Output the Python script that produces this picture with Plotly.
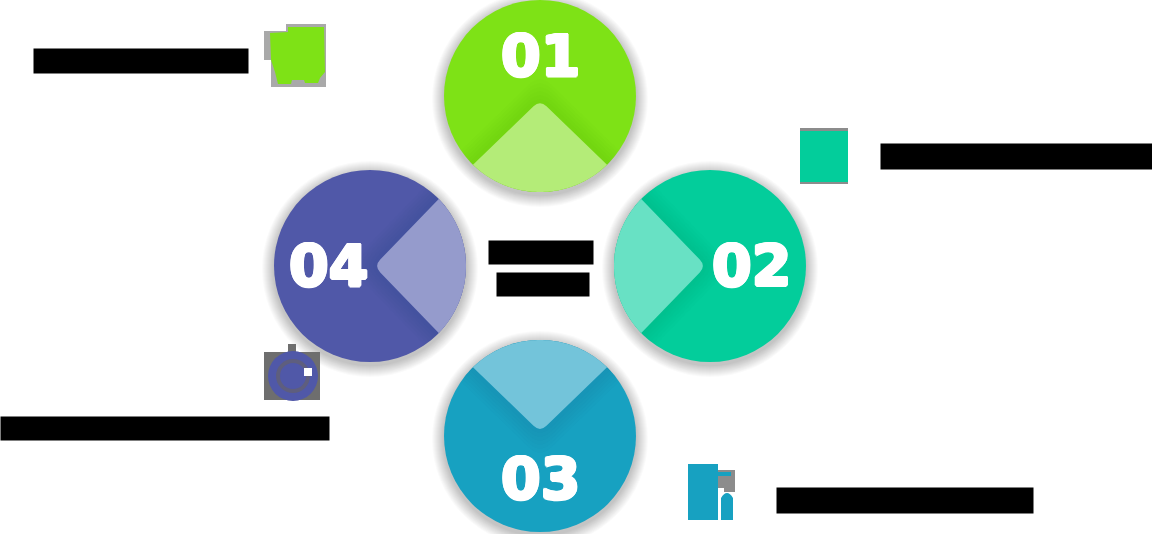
import math
import plotly.graph_objects as go

# ---- content ----
step_numbers = ["01", "02", "03", "04"]
step_labels = ["Online Tracking", "Data Brokerage Sales", "Weak Password Security", "Government Surveillance Overreach"]
center_title = ["Privacy", "Risks"]
main_colors = ["#7EE216", "#03CD9B", "#17A1C1", "#5058A8"]
light_colors = ["#B4EC78", "#68E1C4", "#73C4DA", "#959BCC"]
dark_colors = ["#5AB00A", "#029E78", "#0F7E99", "#363D85"]

W, H = 1152, 534
CX, CY = 540, 266      # layout center
DIST = 170             # center -> circle center
R = 96                 # circle radius

# direction of each circle from layout center (pixel coords, y down)
dirs = [(0, -1), (1, 0), (0, 1), (-1, 0)]

fig = go.Figure()
shapes = []
annotations = []


def wedge_path(cx, cy, r, vx, vy, ox, oy, half=math.radians(46), rc=9, npts=60):
    """Light wedge inside circle (cx,cy,r) with vertex (vx,vy) opening along (ox,oy)."""
    base = math.atan2(oy, ox)
    ends = []
    for s in (+1, -1):
        a = base + s * half
        dx, dy = math.cos(a), math.sin(a)
        px, py = vx - cx, vy - cy
        b = dx * px + dy * py
        c = px * px + py * py - r * r
        t = -b + math.sqrt(b * b - c)
        ends.append((vx + t * dx, vy + t * dy, dx, dy))
    (x1, y1, d1x, d1y), (x2, y2, d2x, d2y) = ends
    a1 = math.atan2(y1 - cy, x1 - cx)
    a2 = math.atan2(y2 - cy, x2 - cx)
    delta = (a2 - a1) % (2 * math.pi)
    mid = a1 + delta / 2
    if math.cos(mid - base) < 0:
        delta -= 2 * math.pi
    path = f"M {vx + rc * d2x:.2f},{vy + rc * d2y:.2f} Q {vx:.2f},{vy:.2f} {vx + rc * d1x:.2f},{vy + rc * d1y:.2f} L {x1:.2f},{y1:.2f}"
    for i in range(1, npts + 1):
        a = a1 + delta * i / npts
        path += f" L {cx + r * math.cos(a):.2f},{cy + r * math.sin(a):.2f}"
    path += " Z"
    return path


# shadows
for i, (dx, dy) in enumerate(dirs):
    cx, cy = CX + dx * DIST, CY + dy * DIST
    for k in range(12, 0, -1):
        shapes.append(dict(type="circle", x0=cx - R - k, x1=cx + R + k, y0=cy - R - k + 3, y1=cy + R + k + 3,
                           fillcolor="rgba(0,0,0,0.018)", line=dict(width=0), layer="below"))

for i, (dx, dy) in enumerate(dirs):
    cx, cy = CX + dx * DIST, CY + dy * DIST
    shapes.append(dict(type="circle", x0=cx - R, x1=cx + R, y0=cy - R, y1=cy + R,
                       fillcolor=main_colors[i], line=dict(width=0), layer="below"))
    ox, oy = -dx, -dy
    vx, vy = cx + ox * 4, cy + oy * 4
    # soft dark band beside wedge
    for off in (26, 22, 18, 14, 10, 6):
        shapes.append(dict(type="path",
                           path=wedge_path(cx, cy, R, vx - ox * off, vy - oy * off, ox, oy, rc=16),
                           fillcolor=dark_colors[i], opacity=0.045, line=dict(width=0), layer="below"))
    shapes.append(dict(type="path", path=wedge_path(cx, cy, R, vx, vy, ox, oy),
                       fillcolor=light_colors[i], line=dict(width=0), layer="below"))

# numbers (thickened with a white text shadow to mimic an extra-bold face)
thick = ", ".join(f"{sx}px {sy}px 0 white" for sx, sy in
                  [(1.5, 0), (-1.5, 0), (0, 1.5), (0, -1.5), (1, 1), (-1, -1), (1, -1), (-1, 1)])
num_offsets = [(0, -40), (41, 0), (0, 43), (-42, 0)]
for i, (dx, dy) in enumerate(dirs):
    cx, cy = CX + dx * DIST, CY + dy * DIST
    annotations.append(dict(x=cx + num_offsets[i][0], y=cy + num_offsets[i][1],
                            text=f"<b>{step_numbers[i]}</b>", showarrow=False,
                            font=dict(family="DejaVu Sans", size=57, color="white", shadow=thick),
                            xanchor="center", yanchor="middle"))

# label blocks (text redacted as black bars)
label_boxes = [(33, 48, 214, 24), (880, 143, 272, 25), (776, 487, 256, 25), (0, 416, 328, 23)]
for i, (x0, y0, w, h) in enumerate(label_boxes):
    annotations.append(dict(x=x0, y=y0, text=f"<b>{step_labels[i]}</b>",
                            showarrow=False, xanchor="left", yanchor="top", width=w, height=h,
                            bgcolor="black", borderpad=0, align="left",
                            font=dict(family="Roboto", size=18, color="black")))

center_boxes = [(488, 240, 104, 23), (496, 272, 92, 23)]
for j, (x0, y0, w, h) in enumerate(center_boxes):
    annotations.append(dict(x=x0, y=y0, text=f"<b>{center_title[j]}</b>",
                            showarrow=False, xanchor="left", yanchor="top", width=w, height=h,
                            bgcolor="black", borderpad=0, align="center",
                            font=dict(family="Roboto", size=18, color="black")))

for a in annotations:
    a.setdefault("xref", "x")
    a.setdefault("yref", "y")

# ---- icons ----
gray = "#A9A9A9"
# icon 1
shapes.append(dict(type="rect", x0=264, x1=326, y0=24, y1=87, fillcolor=gray, line=dict(width=0)))
shapes.append(dict(type="rect", x0=264, x1=286, y0=24, y1=31, fillcolor="white", line=dict(width=0)))
shapes.append(dict(type="rect", x0=264, x1=271, y0=60, y1=87, fillcolor="white", line=dict(width=0)))
shapes.append(dict(type="path", path="M 270,33 L 288,32 L 288,27 L 324,27 L 325,72 L 320,78 L 318,83 L 305,83 L 304,80 L 292,80 L 291,84 L 278,84 L 275,72 L 271,60 Z",
                   fillcolor=main_colors[0], line=dict(width=0)))
# icon 2
shapes.append(dict(type="rect", x0=800, x1=848, y0=128, y1=184, fillcolor="#8C8C8C", line=dict(width=0)))
shapes.append(dict(type="rect", x0=800, x1=848, y0=131, y1=182, fillcolor=main_colors[1], line=dict(width=0)))
# icon 3
shapes.append(dict(type="rect", x0=716, x1=735, y0=470, y1=492, fillcolor="#8C8C8C", line=dict(width=0)))
shapes.append(dict(type="rect", x0=688, x1=718, y0=464, y1=520, fillcolor=main_colors[2], line=dict(width=0)))
shapes.append(dict(type="rect", x0=718, x1=731, y0=472, y1=476, fillcolor=main_colors[2], line=dict(width=0)))
shapes.append(dict(type="rect", x0=718, x1=724, y0=488, y1=494, fillcolor="white", line=dict(width=0)))
shapes.append(dict(type="path", path="M 721,520 L 721,498 Q 727,488 733,498 L 733,520 Z",
                   fillcolor=main_colors[2], line=dict(width=0)))
# icon 4
shapes.append(dict(type="rect", x0=264, x1=320, y0=352, y1=400, fillcolor="#6E6E6E", line=dict(width=0)))
shapes.append(dict(type="rect", x0=288, x1=296, y0=344, y1=352, fillcolor="#6E6E6E", line=dict(width=0)))
shapes.append(dict(type="circle", x0=268, x1=318, y0=351, y1=401, fillcolor=main_colors[3], line=dict(width=0)))
shapes.append(dict(type="circle", x0=276, x1=310, y0=359, y1=393, fillcolor="#5E5E7E", line=dict(width=0)))
shapes.append(dict(type="circle", x0=280, x1=306, y0=363, y1=389, fillcolor=main_colors[3], line=dict(width=0)))
shapes.append(dict(type="rect", x0=304, x1=312, y0=368, y1=376, fillcolor="white", line=dict(width=0)))

for s in shapes:
    s.setdefault("xref", "x")
    s.setdefault("yref", "y")

fig.update_layout(
    width=W, height=H,
    margin=dict(l=0, r=0, t=0, b=0),
    paper_bgcolor="white", plot_bgcolor="white",
    xaxis=dict(range=[0, W], visible=False, fixedrange=True),
    yaxis=dict(range=[H, 0], visible=False, fixedrange=True),
    shapes=shapes, annotations=annotations, showlegend=False,
)
fig.write_html("out.html", config={"displayModeBar": False},
               post_script="document.body.style.margin='0';document.body.style.overflow='hidden';")
